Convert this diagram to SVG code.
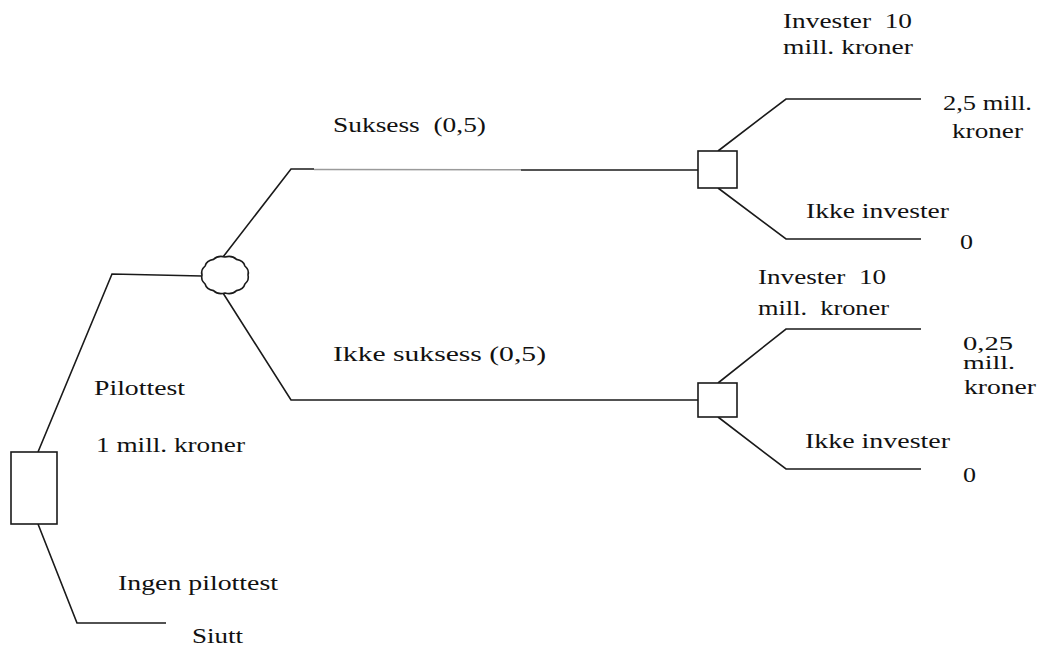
<svg xmlns="http://www.w3.org/2000/svg" width="1037" height="647" viewBox="0 0 1037 647">
<style>
.ln{fill:none;stroke:#1a1a1a;stroke-width:1.6;stroke-linejoin:miter}
.nd{fill:#fff;stroke:#1a1a1a;stroke-width:1.6}
.lb{font-family:'Liberation Serif','Times New Roman',Times,serif;font-size:21px;fill:#111}
</style>
<rect width="1037" height="647" fill="#fff"/>
<g id="connectors">
<polyline class="ln" points="38,452 112,274 202,276"/>
<polyline class="ln" points="38,524 77,623 166,623"/>
<polyline class="ln" points="223,257 291,169 314,169"/>
<line x1="314" y1="169.5" x2="521" y2="169.8" stroke="#9a9a9a" stroke-width="1.6"/>
<line class="ln" x1="521" y1="170" x2="698" y2="170"/>
<polyline class="ln" points="223,293 291,400 698,400"/>
<polyline class="ln" points="718,151 786,99 921,99"/>
<polyline class="ln" points="718,188 786,239 921,239"/>
<polyline class="ln" points="718,383 786,329 921,329"/>
<polyline class="ln" points="718,417 786,469 921,469"/>
</g>
<g id="node-start"><rect class="nd" x="11" y="452" width="46" height="72"/></g>
<g id="node-chance"><path class="nd" d="M248,275 Q249.5,280 244.9,284 Q243.5,289.5 236.5,290.6 Q232,295 225,293 Q218,295 213.5,290.6 Q206.5,289.5 205.1,284 Q200.5,280 202,275 Q200.5,270 205.1,266 Q206.5,260.5 213.5,259.4 Q218,255 225,257 Q232,255 236.5,259.4 Q243.5,260.5 244.9,266 Q249.5,270 248,275 Z"/></g>
<g id="node-decision-upper"><rect class="nd" x="698" y="151" width="39" height="37"/></g>
<g id="node-decision-lower"><rect class="nd" x="698" y="383" width="39" height="34"/></g>
<g id="labels" class="lb" font-family="Liberation Serif, Times New Roman, serif">
<text x="94" y="395" textLength="91" lengthAdjust="spacingAndGlyphs">Pilottest</text>
<text x="96" y="452" textLength="149" lengthAdjust="spacingAndGlyphs">1 mill. kroner</text>
<text x="118" y="590" textLength="160" lengthAdjust="spacingAndGlyphs">Ingen pilottest</text>
<text x="192" y="643" textLength="51" lengthAdjust="spacingAndGlyphs">Siutt</text>
<text x="333" y="132" textLength="153" lengthAdjust="spacingAndGlyphs" xml:space="preserve">Suksess  (0,5)</text>
<text x="333" y="361" textLength="213" lengthAdjust="spacingAndGlyphs">Ikke suksess (0,5)</text>
<text x="783" y="28" textLength="129" lengthAdjust="spacingAndGlyphs" xml:space="preserve">Invester  10</text>
<text x="783" y="54" textLength="130" lengthAdjust="spacingAndGlyphs">mill. kroner</text>
<text x="943" y="110" textLength="89" lengthAdjust="spacingAndGlyphs">2,5 mill.</text>
<text x="952" y="138" textLength="71" lengthAdjust="spacingAndGlyphs">kroner</text>
<text x="806" y="218" textLength="143" lengthAdjust="spacingAndGlyphs">Ikke invester</text>
<text x="960" y="249" textLength="13" lengthAdjust="spacingAndGlyphs">0</text>
<text x="758" y="284" textLength="128" lengthAdjust="spacingAndGlyphs" xml:space="preserve">Invester  10</text>
<text x="758" y="315" textLength="131" lengthAdjust="spacingAndGlyphs" xml:space="preserve">mill.  kroner</text>
<text x="963" y="350" font-size="19" textLength="50" lengthAdjust="spacingAndGlyphs">0,25</text>
<text x="963" y="369" font-size="19" textLength="52" lengthAdjust="spacingAndGlyphs">mill.</text>
<text x="964" y="394" textLength="72" lengthAdjust="spacingAndGlyphs">kroner</text>
<text x="805" y="448" textLength="145" lengthAdjust="spacingAndGlyphs">Ikke invester</text>
<text x="963" y="482" textLength="13" lengthAdjust="spacingAndGlyphs">0</text>
</g>
</svg>
